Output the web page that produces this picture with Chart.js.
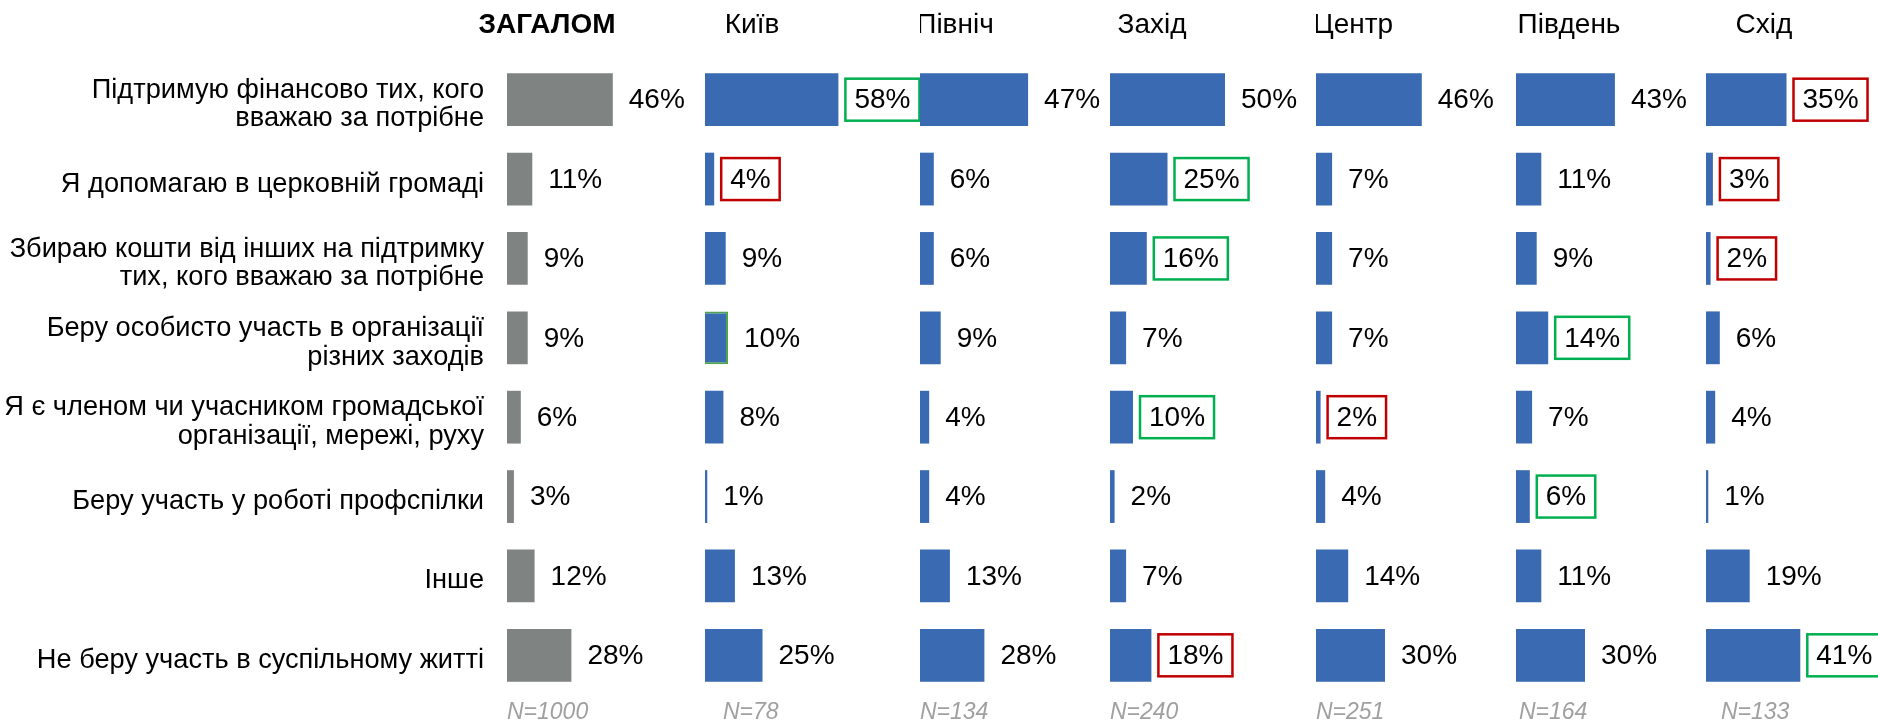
<!DOCTYPE html>
<html>
<head>
<meta charset="utf-8">
<script src="https://cdn.jsdelivr.net/npm/chart.js@4.4.1/dist/chart.umd.min.js"></script>
<style>
    html, body { margin: 0; padding: 0; background: #fff; overflow: hidden; }
    #wrap { position: relative; width: 1878px; height: 724px; }
    .col { position: absolute; top: 0; height: 724px; }
</style>
</head>
<body>
<div id="wrap"></div>
<script>
// --- data ---
const categories = [
    ['Підтримую фінансово тих, кого', 'вважаю за потрібне'],
    'Я допомагаю в церковній громаді',
    ['Збираю кошти від інших на підтримку', 'тих, кого вважаю за потрібне'],
    ['Беру особисто участь в організації', 'різних заходів'],
    ['Я є членом чи учасником громадської', 'організації, мережі, руху'],
    'Беру участь у роботі профспілки',
    'Інше',
    'Не беру участь в суспільному житті'
];

const regions = ['ЗАГАЛОМ', 'Київ', 'Північ', 'Захід', 'Центр', 'Південь', 'Схід'];
const sampleSizes = ['N=1000', 'N=78', 'N=134', 'N=240', 'N=251', 'N=164', 'N=133'];

const valuesTotal  = [46, 11, 9, 9, 6, 3, 12, 28];
const valuesKyiv   = [58, 4, 9, 10, 8, 1, 13, 25];
const valuesNorth  = [47, 6, 6, 9, 4, 4, 13, 28];
const valuesWest   = [50, 25, 16, 7, 10, 2, 7, 18];
const valuesCenter = [46, 7, 7, 7, 2, 4, 14, 30];
const valuesSouth  = [43, 11, 9, 14, 7, 6, 11, 30];
const valuesEast   = [35, 3, 2, 6, 4, 1, 19, 41];

// significance marks: 'up' = green box, 'down' = red box, 'bar' = green bar outline
const marksTotal  = [null, null, null, null, null, null, null, null];
const marksKyiv   = ['up', 'down', null, 'bar', null, null, null, null];
const marksNorth  = [null, null, null, null, null, null, null, null];
const marksWest   = [null, 'up', 'up', null, 'up', null, null, 'down'];
const marksCenter = [null, null, null, null, 'down', null, null, null];
const marksSouth  = [null, null, null, 'up', null, 'up', null, null];
const marksEast   = ['down', 'down', 'down', null, null, null, null, 'up'];

const columnValues = [valuesTotal, valuesKyiv, valuesNorth, valuesWest, valuesCenter, valuesSouth, valuesEast];
const columnMarks = [marksTotal, marksKyiv, marksNorth, marksWest, marksCenter, marksSouth, marksEast];

// --- layout ---
const PAGE_WIDTH = 1878;
const COL_LEFT = [507, 705, 920, 1110, 1316, 1516, 1706];
const HEADER_DX = [40, 47, 35, 42, 37, 53, 58];
const N_DX = [0, 18, 0, 0, 0, 3, 15];
const PX_PER_PCT = 2.3;

const FONT = "'Liberation Sans', Arial, sans-serif";
const GRAY = '#7F8382';
const BLUE = '#3A6AB1';
const GREEN = '#00B050';
const RED = '#C00000';

// Draws value labels, significance boxes, column header and sample size
const decorPlugin = {
    id: 'colDecor',
    afterDatasetsDraw(chart, args, opts) {
        const ctx = chart.ctx;
        const meta = chart.getDatasetMeta(0);
        const values = chart.data.datasets[0].data;
        const area = chart.chartArea;

        ctx.save();
        ctx.font = `28px ${FONT}`;
        ctx.textBaseline = 'middle';
        ctx.textAlign = 'left';
        meta.data.forEach((bar, j) => {
            const txt = values[j] + '%';
            const w = ctx.measureText(txt).width;
            const mark = opts.marks[j];
            if (mark === 'up' || mark === 'down') {
                ctx.strokeStyle = mark === 'up' ? GREEN : RED;
                ctx.lineWidth = 2.5;
                ctx.strokeRect(bar.x + 7, bar.y - 21, w + 18, 42);
            }
            ctx.fillStyle = '#000';
            ctx.fillText(txt, bar.x + 16, bar.y + 1);
        });

        ctx.font = `${opts.bold ? 'bold ' : ''}28px ${FONT}`;
        ctx.textAlign = 'center';
        ctx.fillStyle = '#000';
        ctx.fillText(opts.header, area.left + opts.headerDx, 25);

        ctx.font = `italic 23px ${FONT}`;
        ctx.textAlign = 'left';
        ctx.fillStyle = '#A0A0A0';
        ctx.fillText(opts.n, area.left + opts.nDx, 713);
        ctx.restore();
    }
};

function buildColumn(i) {
    const wrap = document.getElementById('wrap');
    const left = i === 0 ? 0 : COL_LEFT[i];
    const right = i < COL_LEFT.length - 1 ? COL_LEFT[i + 1] : PAGE_WIDTH;
    const areaWidth = right - COL_LEFT[i];
    const marks = columnMarks[i];

    const div = document.createElement('div');
    div.className = 'col';
    div.style.left = left + 'px';
    div.style.width = (right - left) + 'px';
    const canvas = document.createElement('canvas');
    div.appendChild(canvas);
    wrap.appendChild(div);

    new Chart(canvas, {
        type: 'bar',
        data: {
            labels: categories,
            datasets: [{
                data: columnValues[i],
                backgroundColor: i === 0 ? GRAY : BLUE,
                borderColor: marks.map(m => m === 'bar' ? '#4EA54E' : 'rgba(0,0,0,0)'),
                borderWidth: marks.map(m => m === 'bar' ? 2 : 0),
                barPercentage: 0.665,
                categoryPercentage: 1
            }]
        },
        options: {
            indexAxis: 'y',
            responsive: true,
            maintainAspectRatio: false,
            animation: false,
            devicePixelRatio: 1,
            layout: { padding: { top: 60, bottom: 29, left: 0, right: 0 } },
            plugins: {
                legend: { display: false },
                tooltip: { enabled: false },
                colDecor: {
                    marks: marks,
                    header: regions[i],
                    bold: i === 0,
                    headerDx: HEADER_DX[i],
                    n: sampleSizes[i],
                    nDx: N_DX[i]
                }
            },
            scales: {
                x: { display: false, min: 0, max: areaWidth / PX_PER_PCT },
                y: {
                    display: i === 0,
                    grid: { display: false, drawTicks: false },
                    border: { display: false },
                    ticks: {
                        autoSkip: false,
                        padding: 23,
                        labelOffset: 5,
                        color: '#000',
                        font: { family: FONT, size: 27.2, lineHeight: 1.05 }
                    },
                    afterFit: (scale) => {
                        if (i !== 0) return;
                        // fixed label gutter, and keep rows aligned with the other columns
                        scale.width = COL_LEFT[0];
                        scale.paddingTop = 0;
                        scale.paddingBottom = 0;
                    }
                }
            }
        },
        plugins: [decorPlugin]
    });
}

regions.forEach((r, i) => buildColumn(i));
</script>
</body>
</html>
